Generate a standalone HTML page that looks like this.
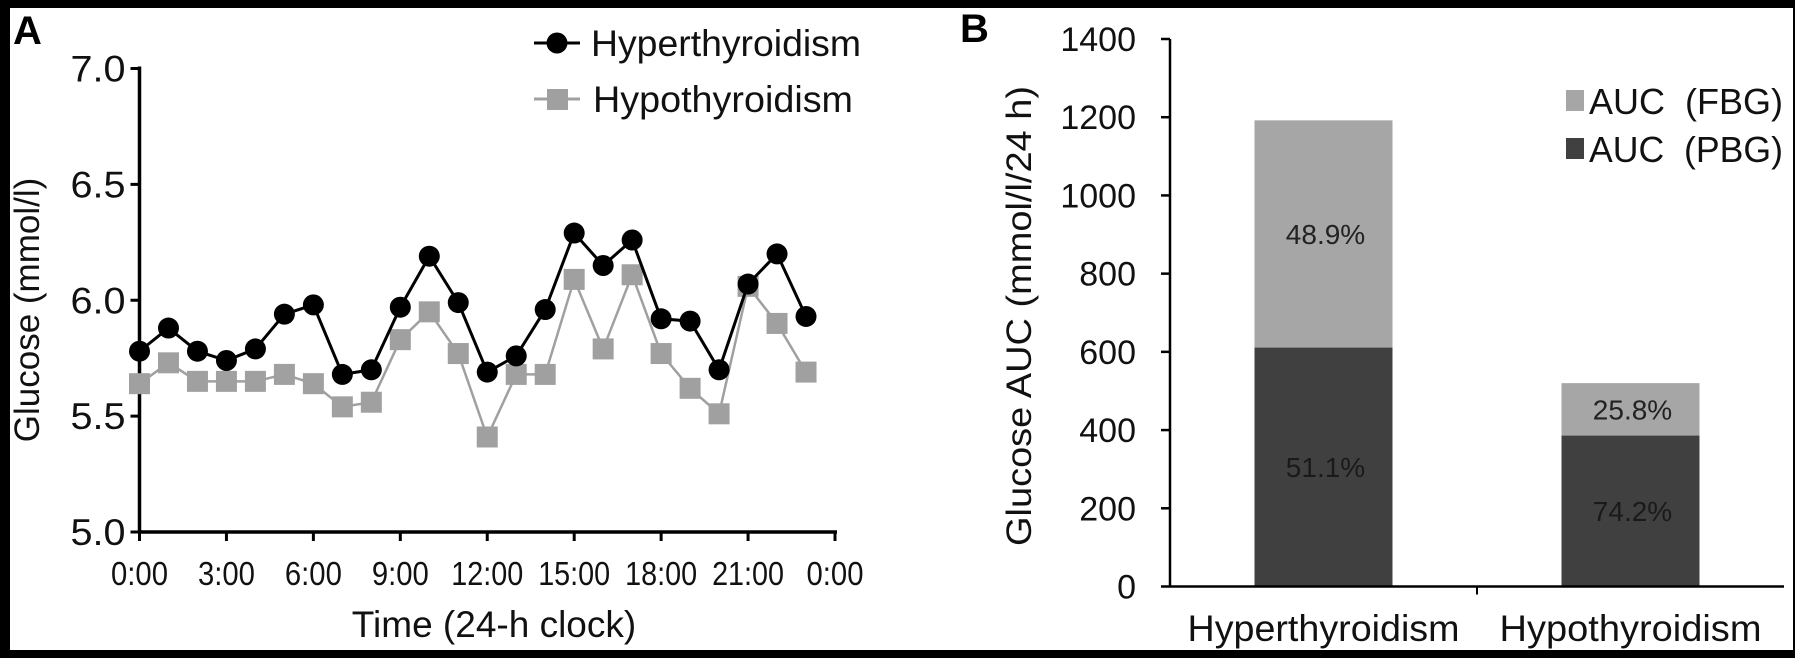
<!DOCTYPE html>
<html><head><meta charset="utf-8"><style>
html,body{margin:0;padding:0;background:#000;}
svg{display:block;font-family:"Liberation Sans",Arial,sans-serif;}
</style></head><body>
<svg id="fig" width="1795" height="658" viewBox="0 0 1795 658" xmlns="http://www.w3.org/2000/svg">
<rect x="0" y="0" width="1795" height="658" fill="#000"/>
<rect x="10" y="8" width="1783" height="642" fill="#fff"/>
<g id="A"></g>
<g id="B"></g>
</svg>
<script>
const hours = [0,1,2,3,4,5,6,7,8,9,10,11,12,13,14,15,16,17,18,19,20,21,22,23];
const hyperValues = [5.78,5.88,5.78,5.74,5.79,5.94,5.98,5.68,5.70,5.97,6.19,5.99,5.69,5.76,5.96,6.29,6.15,6.26,5.92,5.91,5.70,6.07,6.20,5.93];
const hypoValues = [5.64,5.73,5.65,5.65,5.65,5.68,5.64,5.54,5.56,5.83,5.95,5.77,5.41,5.68,5.68,6.09,5.79,6.11,5.77,5.62,5.51,6.06,5.90,5.69];
const yTicksA = [5.0,5.5,6.0,6.5,7.0];
const xTickHours = [0,3,6,9,12,15,18,21,24];
const xTickLabels = ["0:00","3:00","6:00","9:00","12:00","15:00","18:00","21:00","0:00"];

const categoriesB = ["Hyperthyroidism","Hypothyroidism"];
const pbgValues = [611,386];
const fbgValues = [581,134];
const pbgLabels = ["51.1%","74.2%"];
const fbgLabels = ["48.9%","25.8%"];
const yTicksB = [0,200,400,600,800,1000,1200,1400];

const NS="http://www.w3.org/2000/svg";
function mk(parent,tag,attrs,text){const e=document.createElementNS(NS,tag);for(const k in attrs)e.setAttribute(k,attrs[k]);if(text!==undefined)e.textContent=text;parent.appendChild(e);return e;}

// Panel A
const A=document.getElementById('A');
const ax0=139.5, ax1=835, ay0=532, ay1=68.5;
const xA=h=>ax0+(ax1-ax0)*h/24;
const yA=v=>ay0+(ay1-ay0)*(v-5)/2;
let t=mk(A,'text',{x:13,y:44,'font-size':40,'font-weight':'bold'},'A');


let l=mk(A,'line',{x1:ax0,y1:ay1-2,x2:ax0,y2:ay0,stroke:'#000','stroke-width':3.5});


l=mk(A,'line',{x1:ax0,y1:ay0,x2:ax1+2,y2:ay0,stroke:'#000','stroke-width':3.5});


yTicksA.forEach(v=>{
  const tk=mk(A,'line',{x1:ax0-9,y1:yA(v),x2:ax0,y2:yA(v),stroke:'#000','stroke-width':3});
  
  
  const tx=mk(A,'text',{x:ax0-14,y:yA(v)+13,'font-size':37,'text-anchor':'end',fill:'#111',textLength:55,lengthAdjust:'spacingAndGlyphs'},v.toFixed(1));
  
  
});
xTickHours.forEach((h,i)=>{
  const tk=mk(A,'line',{x1:xA(h),y1:ay0,x2:xA(h),y2:ay0+9,stroke:'#000','stroke-width':3});
  
  
  const tx=mk(A,'text',{x:xA(h),y:585,'font-size':33,'text-anchor':'middle',fill:'#111',textLength:xTickLabels[i].length>4?72:57,lengthAdjust:'spacingAndGlyphs'},xTickLabels[i]);
  
  
});
t=mk(A,'text',{x:494,y:637,'font-size':37,'text-anchor':'middle',fill:'#111'},'Time (24-h clock)');


t=mk(A,'text',{x:0,y:0,'font-size':35,'text-anchor':'middle',fill:'#111',transform:'translate(39,310) rotate(-90)'},'Glucose (mmol/l)');



function series(vals,color,sw,shape,name){
  const pts=hours.map((h,i)=>xA(h)+','+yA(vals[i])).join(' ');
  const pl=mk(A,'polyline',{points:pts,fill:'none',stroke:color,'stroke-width':sw});
  
  
  hours.forEach((h,i)=>{
    let m;
    if(shape==='circle') m=mk(A,'circle',{cx:xA(h),cy:yA(vals[i]),r:10.5,fill:color});
    else m=mk(A,'rect',{x:xA(h)-10.5,y:yA(vals[i])-10.5,width:21,height:21,fill:color});
    
    
  });
}
series(hypoValues,'#a0a0a0',2.5,'square','hypothyroidism');
series(hyperValues,'#000',3,'circle','hyperthyroidism');

// legend A
l=mk(A,'line',{x1:534,y1:43,x2:580,y2:43,stroke:'#000','stroke-width':3});


l=mk(A,'circle',{cx:557,cy:43,r:10.5,fill:'#000'});


t=mk(A,'text',{x:591,y:56,'font-size':37,fill:'#111',textLength:270,lengthAdjust:'spacingAndGlyphs'},'Hyperthyroidism');


l=mk(A,'line',{x1:534,y1:99,x2:580,y2:99,stroke:'#a0a0a0','stroke-width':3});


l=mk(A,'rect',{x:547,y:89,width:21,height:21,fill:'#a0a0a0'});


t=mk(A,'text',{x:593,y:112,'font-size':37,fill:'#111',textLength:260,lengthAdjust:'spacingAndGlyphs'},'Hypothyroidism');



// Panel B
const B=document.getElementById('B');
const bx0=1170, bx1=1784, by0=586.5, by1=39;
const yB=v=>by0+(by1-by0)*v/1400;
const catW=(bx1-bx0)/2, barW=138;
const cx=i=>bx0+catW*(i+0.5);
t=mk(B,'text',{x:960,y:42,'font-size':40,'font-weight':'bold'},'B');


categoriesB.forEach((c,i)=>{
  const r1=mk(B,'rect',{x:cx(i)-barW/2,y:yB(pbgValues[i]),width:barW,height:by0-yB(pbgValues[i]),fill:'#404040'});
  
  
  const top=pbgValues[i]+fbgValues[i];
  const r2=mk(B,'rect',{x:cx(i)-barW/2,y:yB(top),width:barW,height:yB(pbgValues[i])-yB(top),fill:'#a6a6a6'});
  
  
  const lp=mk(B,'text',{x:cx(i)+2,y:(yB(pbgValues[i])+by0)/2+10,'font-size':28,'text-anchor':'middle',fill:'#1a1a1a'},pbgLabels[i]);
  
  
  const lf=mk(B,'text',{x:cx(i)+2,y:(yB(top)+yB(pbgValues[i]))/2+10,'font-size':28,'text-anchor':'middle',fill:'#222'},fbgLabels[i]);
  
  
  const cl=mk(B,'text',{x:cx(i),y:641,'font-size':37,'text-anchor':'middle',fill:'#111',textLength:i===0?272:262,lengthAdjust:'spacingAndGlyphs'},c);
  
  
});
l=mk(B,'line',{x1:bx0,y1:by1,x2:bx0,y2:by0,stroke:'#000','stroke-width':2.5});


l=mk(B,'line',{x1:bx0,y1:by0,x2:bx1,y2:by0,stroke:'#000','stroke-width':2.5});


l=mk(B,'line',{x1:bx0+catW,y1:by0,x2:bx0+catW,y2:by0+8,stroke:'#000','stroke-width':2});


yTicksB.forEach(v=>{
  const tk=mk(B,'line',{x1:bx0-9,y1:yB(v),x2:bx0,y2:yB(v),stroke:'#000','stroke-width':2.5});
  
  
  const tx=mk(B,'text',{x:1136,y:yB(v)+12,'font-size':34,'text-anchor':'end',fill:'#111'},String(v));
  
  
});
t=mk(B,'text',{x:0,y:0,'font-size':35,'text-anchor':'middle',fill:'#111',transform:'translate(1031,316) rotate(-90)',textLength:460,lengthAdjust:'spacingAndGlyphs'},'Glucose AUC (mmol/l/24 h)');


l=mk(B,'rect',{x:1566,y:90,width:18,height:21,fill:'#a6a6a6'});


t=mk(B,'text',{x:1589,y:114,'font-size':36,fill:'#111',textLength:194,lengthAdjust:'spacingAndGlyphs'},'AUC\u00a0\u00a0(FBG)');


l=mk(B,'rect',{x:1566,y:138,width:18,height:21,fill:'#404040'});


t=mk(B,'text',{x:1589,y:162,'font-size':36,fill:'#111',textLength:194,lengthAdjust:'spacingAndGlyphs'},'AUC\u00a0\u00a0(PBG)');


</script>
</body></html>
